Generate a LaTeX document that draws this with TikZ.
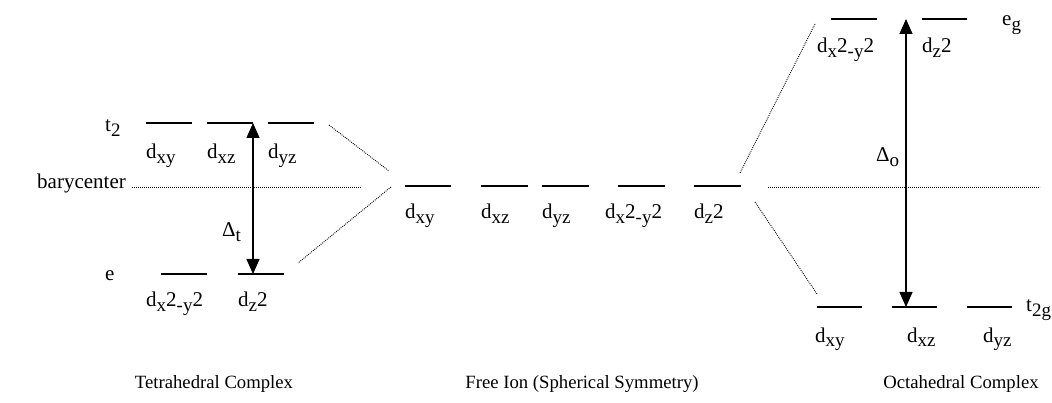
\documentclass[tikz,border=0pt]{standalone}
\usepackage{fontspec}
\setmainfont{Liberation Serif}
\usetikzlibrary{arrows.meta}
\newcommand{\lsub}[1]{\raisebox{-0.22em}{\fontsize{19}{19}\selectfont #1}}
\begin{document}
\begin{tikzpicture}[x=1pt,y=-1pt,
  level/.style={line width=1.5pt},
  corr/.style={line width=0.9pt, dash pattern=on 0.9pt off 1.1pt},
  gap/.style={line width=1.3pt, {Triangle[length=15pt,width=13pt]}-{Triangle[length=15pt,width=13pt]}},
  lab/.style={font=\fontsize{21}{25}\selectfont, inner sep=0pt, anchor=base west},
  ttl/.style={font=\fontsize{18.7}{23}\selectfont, inner sep=0pt, anchor=base}]
\useasboundingbox (0,0) rectangle (1052,403);
% ---------- tetrahedral ----------
\draw[level] (146,123) -- (192,123);
\draw[level] (207,123) -- (253,123);
\draw[level] (268,123) -- (314,123);
\draw[level] (161,274) -- (207,274);
\draw[level] (238,274) -- (284,274);
\coordinate (tTop) at (253,123);
\coordinate (tBot) at (253,274);
\draw[gap] (tTop) -- (tBot);
\coordinate (bcL1) at (132,187);
\coordinate (bcL2) at (361,187);
\draw[corr] (bcL1) -- (bcL2);
\node[lab] (lt2) at (105,132) {t\lsub{2}};
\node[lab] (lbary) at (37,189) {barycenter};
\node[lab] (le) at (105,280) {e};
\node[lab] (t1) at (146,159) {d\lsub{xy}};
\node[lab] (t2) at (207,159) {d\lsub{xz}};
\node[lab] (t3) at (268,159) {d\lsub{yz}};
\node[lab] (t4) at (146,307) {d\lsub{x}2\lsub{-y}2};
\node[lab] (t5) at (238,307) {d\lsub{z}2};
\node[lab] (ldt) at (222,237) {Δ\lsub{t}};
% ---------- free ion ----------
\draw[level] (405,186) -- (451,186);
\draw[level] (481,186) -- (528,186);
\draw[level] (542,186) -- (589,186);
\draw[level] (618,186) -- (665,186);
\draw[level] (694,186) -- (741,186);
\node[lab] (f1) at (405,219) {d\lsub{xy}};
\node[lab] (f2) at (481,219) {d\lsub{xz}};
\node[lab] (f3) at (542,219) {d\lsub{yz}};
\node[lab] (f4) at (605,219) {d\lsub{x}2\lsub{-y}2};
\node[lab] (f5) at (694,219) {d\lsub{z}2};
% ---------- correlation lines ----------
\coordinate (c1a) at (329,125); \coordinate (c1b) at (389,171);
\coordinate (c2a) at (391,187); \coordinate (c2b) at (298,263);
\coordinate (c3a) at (740,173); \coordinate (c3b) at (815,24);
\coordinate (c4a) at (755,202); \coordinate (c4b) at (817,294);
\draw[corr] (c1a) -- (c1b);
\draw[corr] (c2a) -- (c2b);
\draw[corr] (c3a) -- (c3b);
\draw[corr] (c4a) -- (c4b);
% ---------- octahedral ----------
\draw[level] (831,19) -- (877,19);
\draw[level] (922,19) -- (967,19);
\draw[level] (817,307) -- (862,307);
\draw[level] (892,307) -- (937,307);
\draw[level] (967,307) -- (1012,307);
\coordinate (oTop) at (906,19);
\coordinate (oBot) at (906,307);
\draw[gap] (oTop) -- (oBot);
\coordinate (bcR1) at (768,187);
\coordinate (bcR2) at (1040,187);
\draw[corr] (bcR1) -- (bcR2);
\node[lab] (o1) at (817,53) {d\lsub{x}2\lsub{-y}2};
\node[lab] (o2) at (922,53) {d\lsub{z}2};
\node[lab] (leg) at (1002,26) {e\lsub{g}};
\node[lab] (ldo) at (876,162) {Δ\lsub{o}};
\node[lab] (o3) at (815,342) {d\lsub{xy}};
\node[lab] (o4) at (907,342) {d\lsub{xz}};
\node[lab] (o5) at (983,342) {d\lsub{yz}};
\node[lab] (lt2g) at (1026,312) {t\lsub{2g}};
% ---------- titles ----------
\node[ttl] (ttet) at (214,388) {Tetrahedral Complex};
\node[ttl] (tfree) at (582,388) {Free Ion (Spherical Symmetry)};
\node[ttl] (toct) at (961,388) {Octahedral Complex};
\end{tikzpicture}
\end{document}
